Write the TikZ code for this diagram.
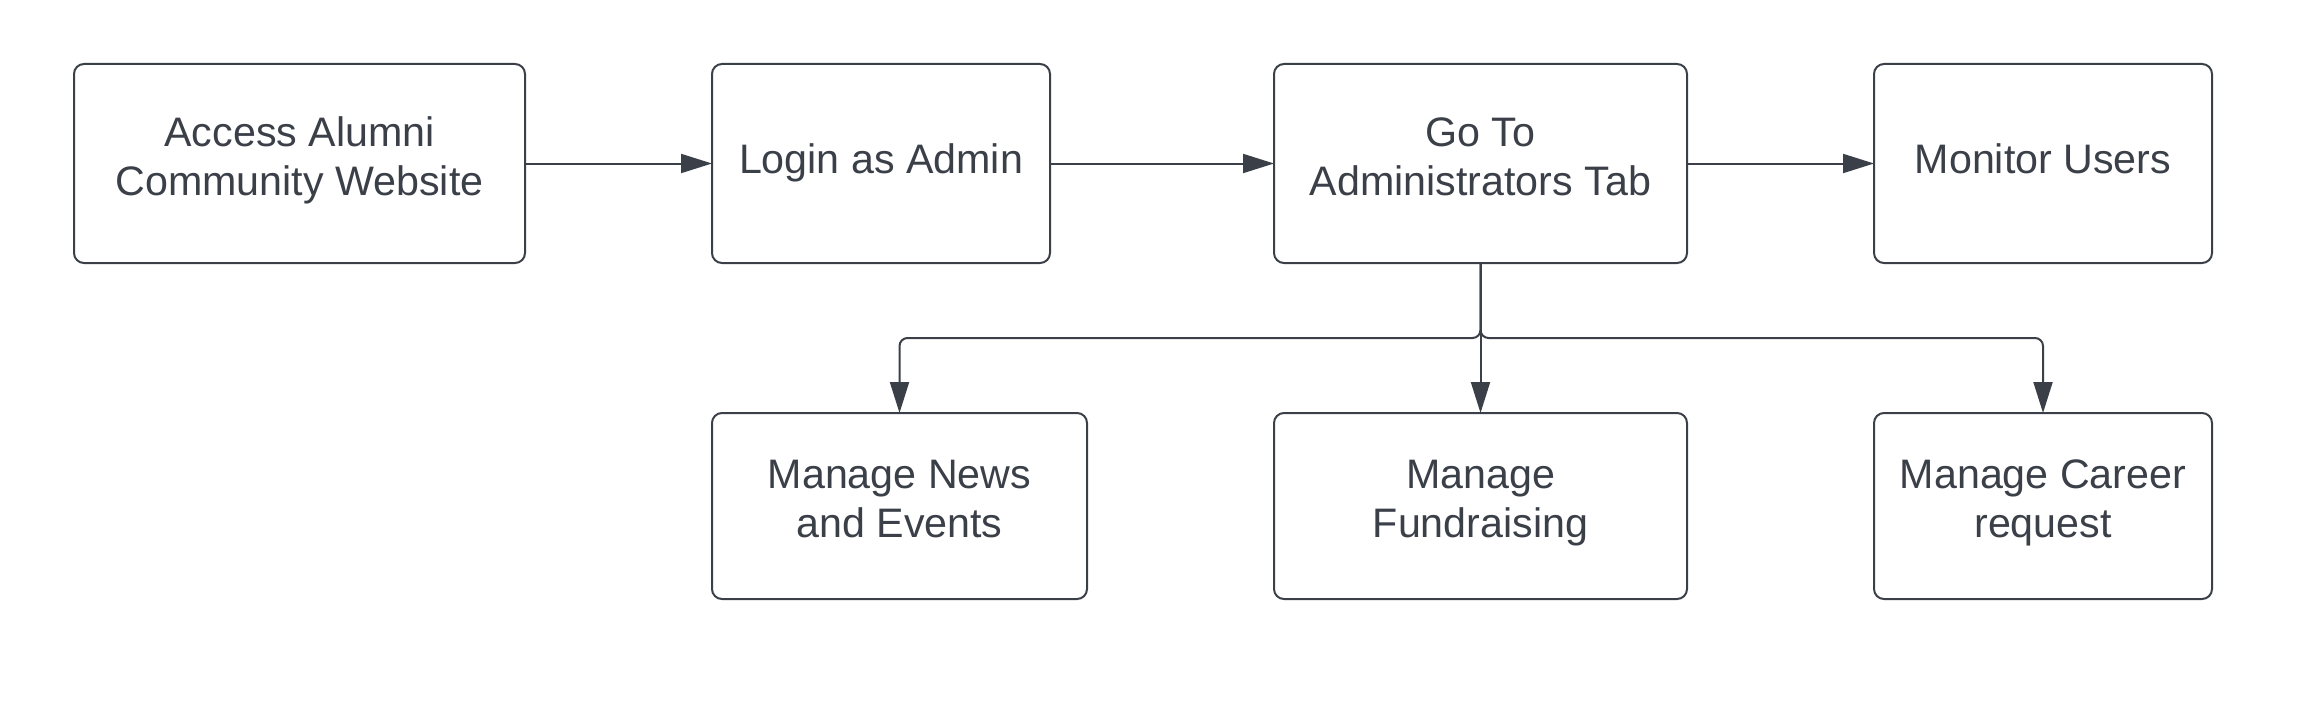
\documentclass[tikz,border=0pt]{standalone}
\usepackage{fontspec}
\setmainfont{Liberation Sans}
\usetikzlibrary{positioning, arrows.meta}
\definecolor{ink}{HTML}{3A3F48}

\begin{document}
\begin{tikzpicture}
	[every node/.style={draw=ink, line width=1pt, rounded corners=5pt, align=center, text=ink,
		font=\fontsize{20.6}{24.5}\selectfont, minimum height=99.5pt, inner sep=5pt, outer sep=0pt,
		execute at begin node=\strut, execute at end node=\strut},
	twoline/.style={execute at begin node=\rule{0pt}{18.35pt}},
	lowbox/.style={minimum height=93pt},
	flow/.style={draw=ink, line width=1pt, rounded corners=4pt, -{Triangle[length=15.5pt, width=9.5pt]}}]
	\useasboundingbox (0,0) rectangle (1161.5pt,-361pt);
	\node[twoline, minimum width=225.5pt] (access) at (149.75pt,-81.75pt) {Access Alumni \\ Community Website};
	\node[minimum width=169pt, right=93.5pt of access] (login) {Login as Admin};
	\node[twoline, minimum width=206.5pt, right=112pt of login] (gotab) {Go To \\ Administrators Tab};
	\node[minimum width=169pt, right=93.5pt of gotab] (monitor) {Monitor Users};
	\node[lowbox, minimum width=187.5pt, below=75pt of login.south west, anchor=north west] (news) {Manage News \\ and Events};
	\node[lowbox, minimum width=206.5pt, below=75pt of gotab] (fund) {Manage \\ Fundraising};
	\node[lowbox, minimum width=169pt, below=75pt of monitor] (career) {Manage Career \\ request};
	\draw[flow] (access) -- (login);
	\draw[flow] (login) -- (gotab);
	\draw[flow] (gotab) -- (monitor);
	\draw[flow] (gotab.south) -- ++(0,-37.5pt) -| (news.north);
	\draw[flow] (gotab.south) -- (fund.north);
	\draw[flow] (gotab.south) -- ++(0,-37.5pt) -| (career.north);
\end{tikzpicture}
\end{document}
